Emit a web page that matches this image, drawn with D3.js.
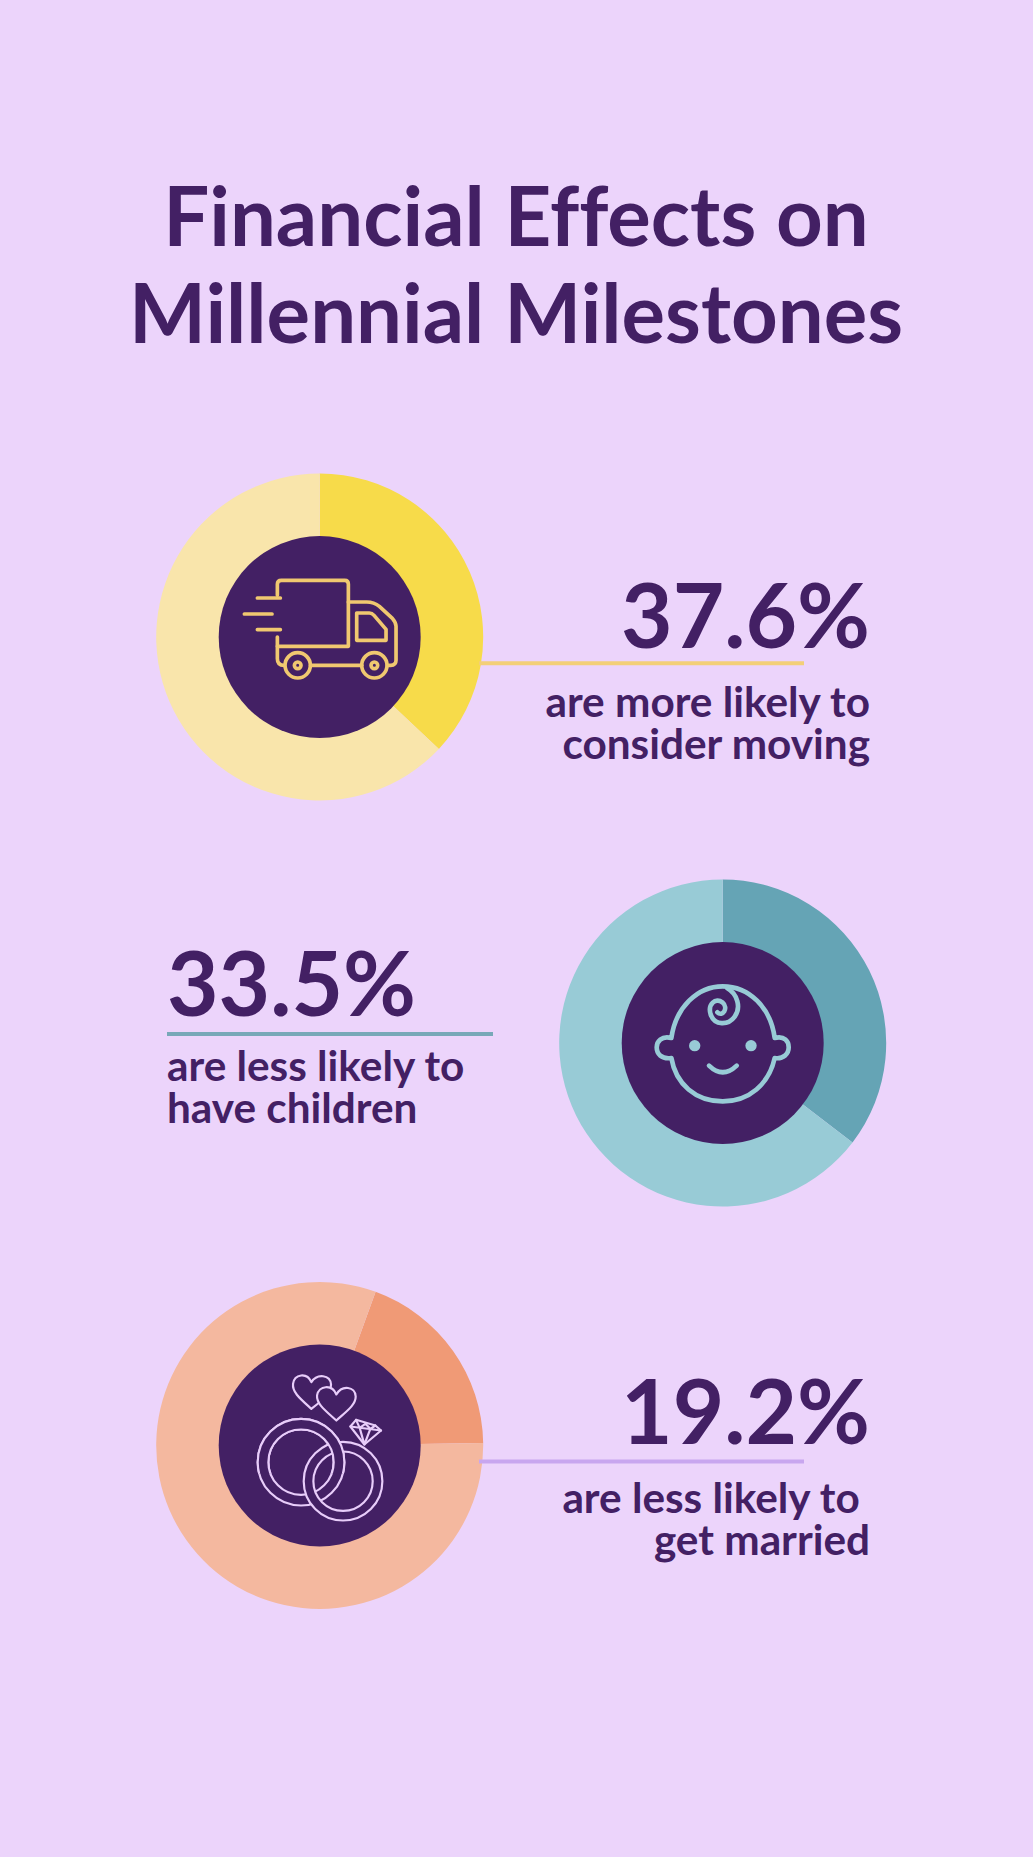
<!DOCTYPE html>
<html>
<head>
<meta charset="utf-8">
<script src="https://cdn.jsdelivr.net/npm/d3@7/dist/d3.min.js"></script>
<style>
  html, body { margin: 0; padding: 0; background: #ecd4fb; }
  svg { display: block; }
  text { font-family: Lato, sans-serif; fill: #432064; font-variant-ligatures: none; }
</style>
</head>
<body>
<div id="chart"></div>
<script>
// values
var titleLines = ["Financial Effects on", "Millennial Milestones"];
var percentLabels = ["37.6%", "33.5%", "19.2%"];
var captions = [
    ["are more likely to", "consider moving"],
    ["are less likely to", "have children"],
    ["are less likely to ", "get married"]
];
// the drawn wedges, as a share of the ring
var wedgeShare = [37.0, 35.4, 19.2];
// where the wedge starts, degrees clockwise from 12 o'clock
var wedgeStart = [0, 0, 20];

var darkColors = ["#f7db4a", "#65a4b5", "#f09a76"];
var lightColors = ["#f9e5ab", "#98cbd6", "#f4b89f"];
var ruleColors = ["#f3cf78", "#78a8b8", "#c8a6ef"];
var iconColors = ["#f0c870", "#98cbd6", "#e8cdfa"];

var width = 1033, height = 1857;
var ink = "#432064";

var svg = d3.select("#chart").append("svg")
    .attr("width", width)
    .attr("height", height)
    .style("background-color", "#ecd4fb");

svg.selectAll(".title")
    .data(titleLines)
    .enter()
    .append("text")
    .attr("class", "title")
    .attr("x", 516)
    .attr("y", function(d, i){ return 246 + i * 97; })
    .attr("text-anchor", "middle")
    .attr("font-size", 81.5)
    .attr("font-weight", 700)
    .text(function(d){ return d; });

var centers = [[319.7, 637], [722.7, 1043], [319.7, 1445.5]];
var side = ["right", "left", "right"];
var ruleY = [663.3, 1034, 1461.5];
var numberY = [648, 1016, 1444];
var captionY = [717, 1081, 1513];

var arc = d3.arc().innerRadius(99).outerRadius(163.5);

function drawRing(i) {
    var pie = d3.pie()
        .sort(null)
        .startAngle(wedgeStart[i] * Math.PI / 180)
        .endAngle((wedgeStart[i] + 360) * Math.PI / 180);
    var color = d3.scaleOrdinal().domain([0, 1]).range([darkColors[i], lightColors[i]]);
    var g = svg.append("g")
        .attr("transform", "translate(" + centers[i][0] + "," + centers[i][1] + ")");
    g.selectAll("path")
        .data(pie([wedgeShare[i], 100 - wedgeShare[i]]))
        .enter()
        .append("path")
        .attr("d", arc)
        .attr("fill", function(d, j){ return color(j); });
    g.append("circle").attr("r", 101).attr("fill", ink);
    return g;
}

function drawLabels(i) {
    var right = side[i] == "right";
    var x = right ? 870 : 167;
    svg.append("line")
        .attr("x1", right ? 479 : 167)
        .attr("x2", right ? 804 : 493)
        .attr("y1", ruleY[i])
        .attr("y2", ruleY[i])
        .attr("stroke", ruleColors[i])
        .attr("stroke-width", 4);
    svg.append("text")
        .attr("x", x)
        .attr("y", numberY[i])
        .attr("text-anchor", right ? "end" : "start")
        .attr("font-size", 89)
        .attr("font-weight", 700)
        .text(percentLabels[i]);
    svg.selectAll(".cap" + i)
        .data(captions[i])
        .enter()
        .append("text")
        .attr("class", "cap" + i)
        .attr("x", x)
        .attr("y", function(d, j){ return captionY[i] + j * 42; })
        .attr("text-anchor", right ? "end" : "start")
        .attr("font-size", 42.3)
        .attr("font-weight", 700)
        .style("white-space", "pre")
        .text(function(d){ return d; });
}

// icons are traced in the 3x zoom coordinates, so scale them down around the ring centre
function iconGroup(g, i, cx, cy, sw) {
    return g.append("g")
        .attr("transform", "scale(" + (1 / 3) + ") translate(" + (-cx) + "," + (-cy) + ")")
        .attr("fill", "none")
        .attr("stroke", iconColors[i])
        .attr("stroke-width", sw)
        .attr("stroke-linecap", "round")
        .attr("stroke-linejoin", "round");
}

function drawTruck(g) {
    var ic = iconGroup(g, 0, 539, 530, 11);
    ic.append("path").attr("d", "M412,405 V372 Q412,360 424,360 H614 Q625,360 625,372 V558 H412");
    ic.append("path").attr("d", "M412,530 V595 Q412,615 432,615");
    ic.append("path").attr("d", "M512,615 H665");
    ic.append("path").attr("d", "M742,615 H752 Q768,615 768,600 V498 Q768,487 757,474 L718,438 Q702,425 680,425 H625");
    ic.append("path").attr("d", "M650,458 H688 Q696,458 702,465 L738,507 V540 H650 Z");
    [473, 703].forEach(function(cx){
        ic.append("circle").attr("cx", cx).attr("cy", 615).attr("r", 38);
        ic.append("circle").attr("cx", cx).attr("cy", 615).attr("r", 10);
    });
    ic.append("path").attr("d", "M352,413 H421 M313,461 H396 M352,508 H421");
}

function drawBaby(g) {
    var ic = iconGroup(g, 1, 366, 367, 14);
    ic.append("path").attr("d", "M212,352 C225,260 290,197 366,197 C445,197 510,260 522,352 C552,345 564,362 564,380 C564,400 548,416 522,412 C505,490 445,542 366,542 C285,542 225,490 212,412 C182,416 168,400 168,380 C168,362 182,345 212,352 Z");
    ic.append("path").attr("d", "M380,203 C410,220 422,260 402,288 C382,315 342,315 330,282 C320,250 345,230 365,245 C385,262 365,290 350,275");
    ic.append("path").attr("d", "M325,435 Q366,475 408,435");
    ic.selectAll("circle")
        .data([282, 451])
        .enter()
        .append("circle")
        .attr("cx", function(d){ return d; })
        .attr("cy", 375)
        .attr("r", 17)
        .attr("fill", iconColors[1])
        .attr("stroke", "none");
}

function ringPath(cx, cy, r1, r2) {
    var p = d3.path();
    p.arc(cx, cy, r1, 0, 2 * Math.PI);
    p.moveTo(cx + r2, cy);
    p.arc(cx, cy, r2, 0, 2 * Math.PI);
    return p.toString();
}

function drawRings(g) {
    var ic = iconGroup(g, 2, 328, 315, 6.5);
    var ringA = ringPath(272, 365, 130, 98);
    var ringB = ringPath(398, 422, 118, 89);
    svg.append("clipPath").attr("id", "overClip")
        .append("rect").attr("x", 0).attr("y", 0).attr("width", 700).attr("height", 400);
    ic.append("path").attr("d", ringA).attr("fill", ink).attr("fill-rule", "evenodd");
    ic.append("path").attr("d", ringB).attr("fill", ink).attr("fill-rule", "evenodd");
    ic.append("path").attr("d", ringA).attr("fill", ink).attr("fill-rule", "evenodd")
        .attr("clip-path", "url(#overClip)");
    // hearts
    ic.append("path").attr("d", "M303,205 C270,175 245,155 248,130 C252,100 290,95 303,125 C320,98 360,102 362,132 C362,160 335,180 303,205 Z");
    ic.append("path").attr("d", "M378,240 C345,210 318,190 320,165 C325,135 365,130 378,162 C395,132 435,138 436,168 C436,195 405,215 378,240 Z").attr("fill", ink);
    // diamond
    ic.append("path").attr("d", "M420,258 L437,238 L495,255 L512,270 L462,312 Z").attr("fill", ink);
    ic.append("path").attr("d", "M420,258 L512,270 M462,312 L448,262 M462,312 L480,265 M437,238 L448,262 L465,250 L480,265 L495,255");
}

var icons = [drawTruck, drawBaby, drawRings];

// rings first: the third rule sits on top of its ring
percentLabels.forEach(function(d, i){
    var g = drawRing(i);
    icons[i](g);
    drawLabels(i);
});
</script>
</body>
</html>
